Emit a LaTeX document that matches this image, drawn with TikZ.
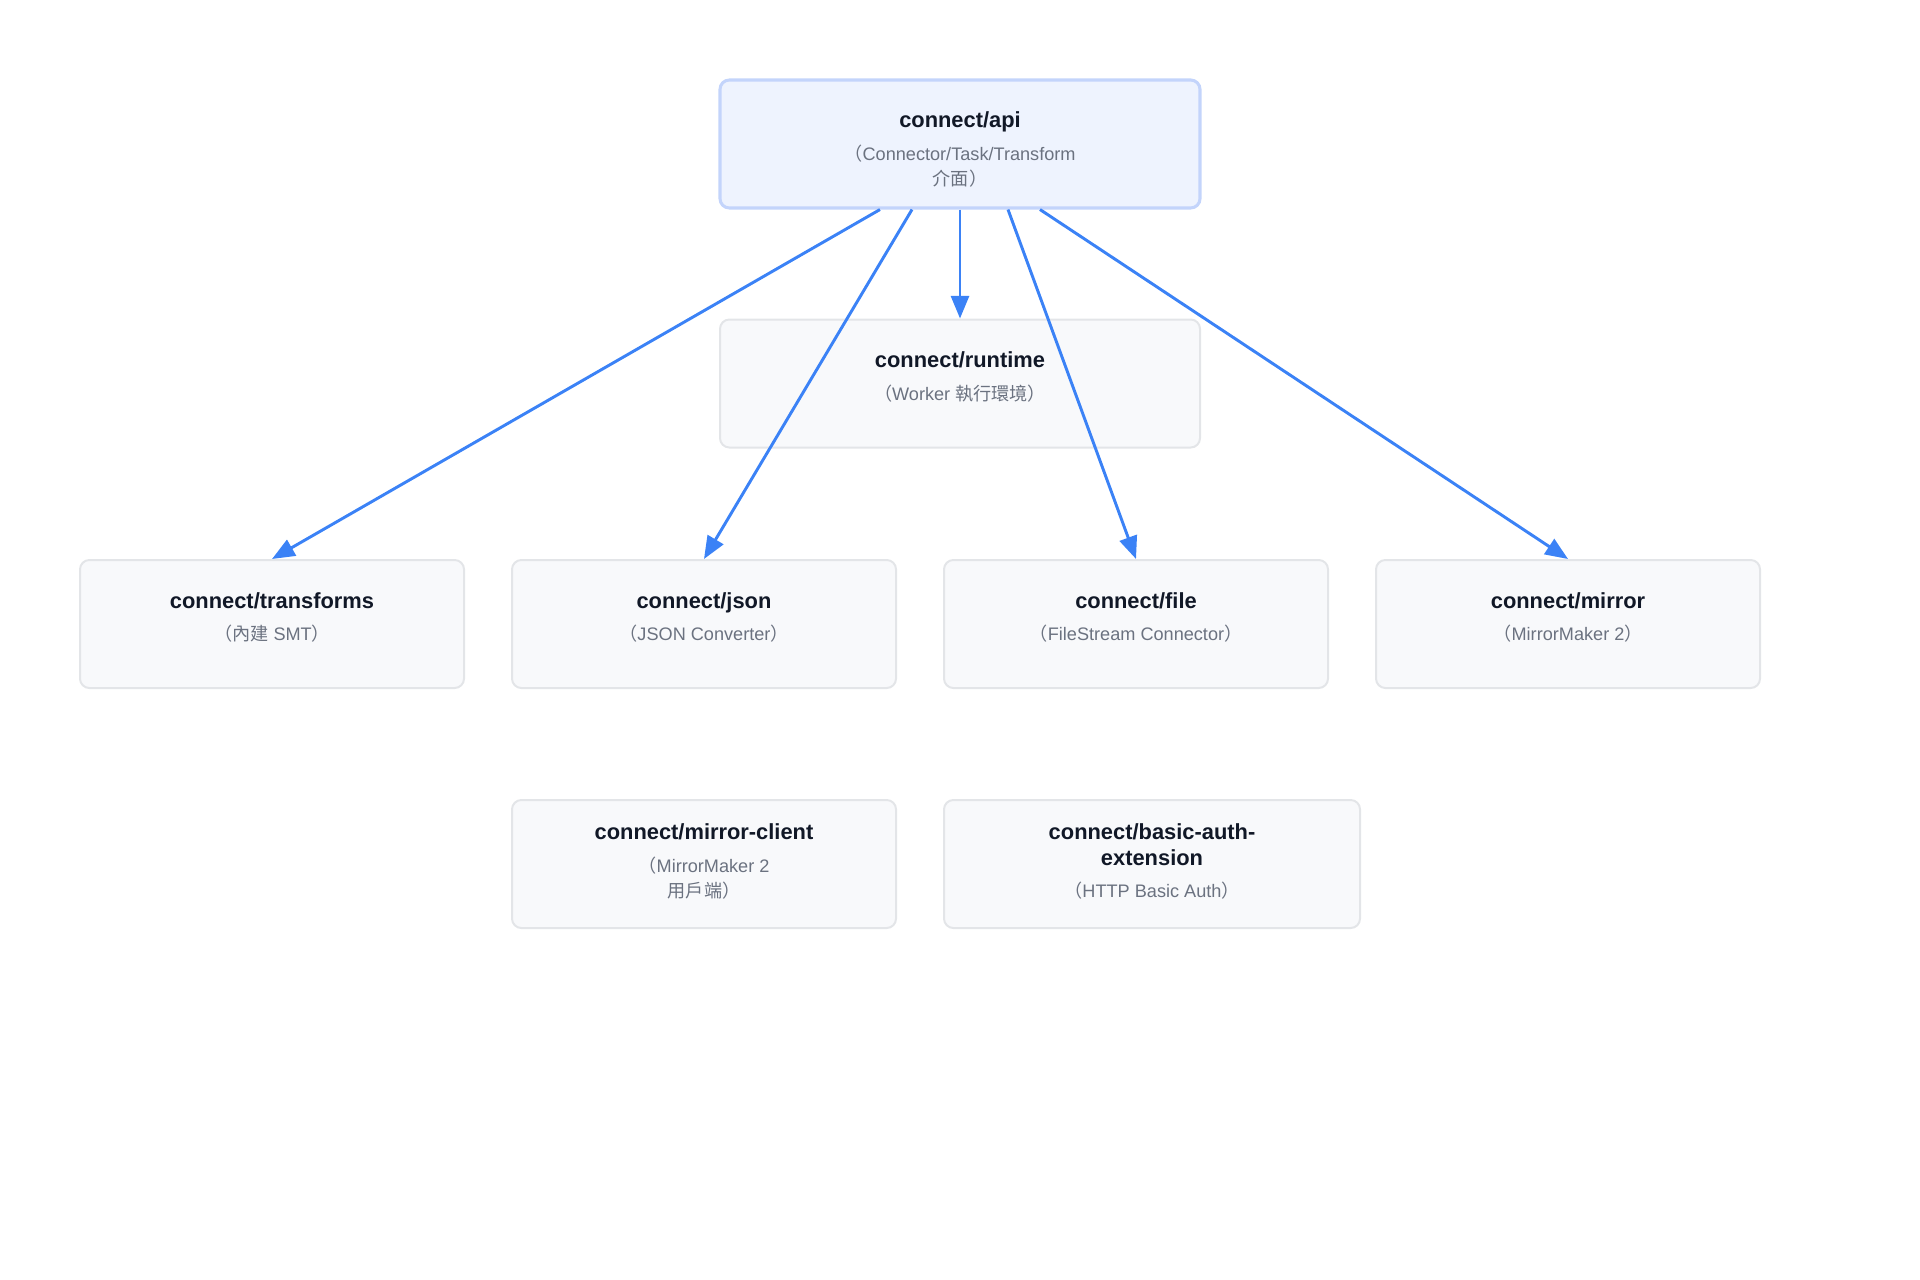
\documentclass[tikz,border=0pt]{standalone}
\usepackage{fontspec}
\setmainfont{Liberation Sans}
\newfontfamily\cjk{Noto Sans CJK TC}
\usetikzlibrary{arrows.meta,calc}

\definecolor{apifill}{HTML}{EEF3FE}
\definecolor{apiedge}{HTML}{C3D4FB}
\definecolor{modfill}{HTML}{F8F9FB}
\definecolor{modedge}{HTML}{E3E5E8}
\definecolor{linkblue}{HTML}{3B82F6}
\definecolor{titlegray}{HTML}{111827}
\definecolor{notegray}{HTML}{6B7280}

\newcommand{\modname}[1]{{\fontsize{16.4pt}{19pt}\selectfont\bfseries\color{titlegray}#1}}
\newcommand{\modnote}[1]{{\fontsize{13.6pt}{19pt}\selectfont\color{notegray}#1}}

\begin{document}
\begin{tikzpicture}[x=0.75pt, y=-0.75pt,
    mod/.style={draw=modedge, line width=1.5pt, fill=modfill, rounded corners=7pt,
        minimum width=288pt, minimum height=96pt},
    apimod/.style={mod, draw=apiedge, fill=apifill, line width=2.3pt, minimum width=360pt},
    modtext/.style={align=center, inner sep=0pt, font=\fontsize{13.6pt}{18.5pt}\selectfont},
    link/.style={draw=linkblue, line width=2.2pt, -{Triangle[length=17pt,width=13.5pt]}}]
    \useasboundingbox (0,0) rectangle (1920,1280);

    % Api on top
    \node[apimod] (api) at (960,144) {};
    \node[modtext] (apitxt) at ($(api)+(0,-4pt)$)
        {\modname{connect/api}\\[6pt]\modnote{{\cjk （}Connector/Task/Transform}\\\modnote{{\cjk 介面）}}};

    % Runtime
    \node[mod, minimum width=360pt] (runtime) at (960,383.5) {};
    \node[modtext] (runtimetxt) at ($(runtime)+(0,5pt)$)
        {\modname{connect/runtime}\\[6pt]\modnote{{\cjk （}Worker {\cjk 執行環境）}}};

    % Row of plugins
    \node[mod] (transforms) at (272,624) {};
    \node[modtext] (transformstxt) at ($(transforms)+(0,5pt)$)
        {\modname{connect/transforms}\\[6pt]\modnote{{\cjk （內建} SMT{\cjk ）}}};
    \node[mod] (json) at (704,624) {};
    \node[modtext] (jsontxt) at ($(json)+(0,5pt)$)
        {\modname{connect/json}\\[6pt]\modnote{{\cjk （}JSON Converter{\cjk ）}}};
    \node[mod] (file) at (1136,624) {};
    \node[modtext] (filetxt) at ($(file)+(0,5pt)$)
        {\modname{connect/file}\\[6pt]\modnote{{\cjk （}FileStream Connector{\cjk ）}}};
    \node[mod] (mirror) at (1568,624) {};
    \node[modtext] (mirrortxt) at ($(mirror)+(0,5pt)$)
        {\modname{connect/mirror}\\[6pt]\modnote{{\cjk （}MirrorMaker 2{\cjk ）}}};

    % Bottom row, no links
    \node[mod] (mirrorclient) at (704,864) {};
    \node[modtext] (mirrorclienttxt) at ($(mirrorclient)+(0,2pt)$)
        {\modname{connect/mirror-client}\\[6pt]\modnote{{\cjk （}MirrorMaker 2}\\\modnote{{\cjk 用戶端）}}};
    \node[mod, minimum width=312pt] (basicauth) at (1152,864) {};
    \node[modtext] (basicauthtxt) at ($(basicauth)+(0,2pt)$)
        {\modname{connect/basic-auth-}\\[1pt]\modname{extension}\\[6pt]\modnote{{\cjk （}HTTP Basic Auth{\cjk ）}}};

    % Links out of api
    \draw[link] ($(api.south)+(-60pt,0)$) -- (transforms.north);
    \draw[link] ($(api.south)+(-36pt,0)$) -- (json.north);
    \draw[link] (api.south) -- (runtime.north);
    \draw[link] ($(api.south)+(36pt,0)$) -- (file.north);
    \draw[link] ($(api.south)+(60pt,0)$) -- (mirror.north);
\end{tikzpicture}
\end{document}
